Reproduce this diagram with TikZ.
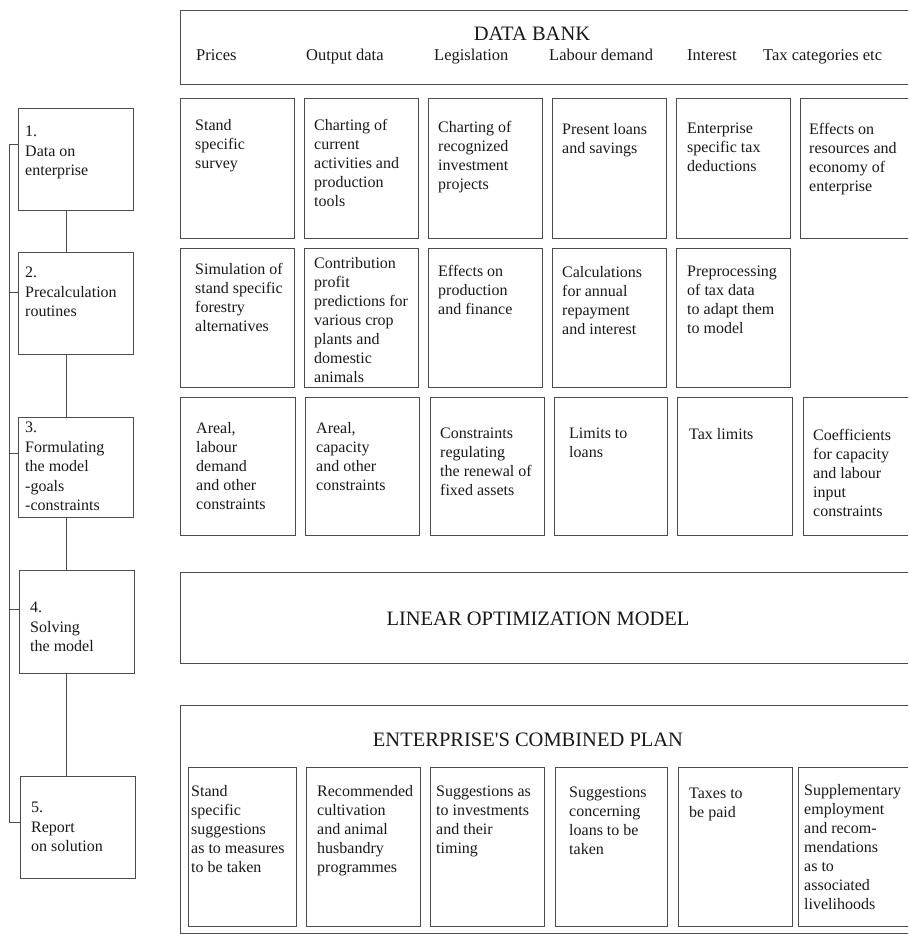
\documentclass[tikz,border=0pt]{standalone}
\usepackage{fontspec}
\setmainfont{Liberation Serif}
\newfontfamily\plainquote{Liberation Serif}[Ligatures=TeXOff]
\begin{document}
\begin{tikzpicture}[x=1pt,y=-1pt,
  box/.style={draw=black!70, line width=0.8pt, inner sep=0pt, outer sep=0pt, anchor=north west},
  txt/.style={anchor=north west, inner sep=0pt, align=left, text=black!90, font=\fontsize{16}{19}\selectfont},
  ltxt/.style={txt, font=\fontsize{16}{19.5}\selectfont},
  lab/.style={anchor=base west, inner sep=0pt, text=black!90, font=\fontsize{16.5}{19}\selectfont},
  ttl/.style={anchor=base, inner sep=0pt, text=black!90, font=\fontsize{20.5}{24}\selectfont},
  link/.style={draw=black!70, line width=0.8pt}]
\useasboundingbox (0,0) rectangle (908,934);
\clip (0,0) rectangle (908,934);

% ---- left column ----
\node[box, minimum width=115, minimum height=102] (b1) at (18,108) {};
\node[box, minimum width=115, minimum height=102] (b2) at (18,252) {};
\node[box, minimum width=115, minimum height=100] (b3) at (18,417) {};
\node[box, minimum width=115, minimum height=103] (b4) at (19,570) {};
\node[box, minimum width=115, minimum height=102] (b5) at (20,776) {};
\node[ltxt] (b1t) at (25,126) {1.\\Data on\\enterprise};
\node[ltxt] (b2t) at (25,267) {2.\\Precalculation\\routines};
\node[ltxt] (b3t) at (25,422) {3.\\Formulating\\the model\\-goals\\-constraints};
\node[ltxt] (b4t) at (30,602) {4.\\Solving\\the model};
\node[ltxt] (b5t) at (31,802) {5.\\Report\\on solution};

\coordinate (sp) at (66,0);
\draw[link] (b1.south -| sp) -- (b2.north -| sp);
\draw[link] (b2.south -| sp) -- (b3.north -| sp);
\draw[link] (b3.south -| sp) -- (b4.north -| sp);
\draw[link] (b4.south -| sp) -- (b5.north -| sp);

\coordinate (t1) at (9,144);
\coordinate (t2) at (9,292);
\coordinate (t3) at (9,453);
\coordinate (t4) at (9,609);
\coordinate (t5) at (9,822);
\draw[link] (t1) -- (t5);
\draw[link] (t1) -- (t1 -| b1.west);
\draw[link] (t2) -- (t2 -| b2.west);
\draw[link] (t3) -- (t3 -| b3.west);
\draw[link] (t4) -- (t4 -| b4.west);
\draw[link] (t5) -- (t5 -| b5.west);

% ---- data bank ----
\node[box, minimum width=740, minimum height=74] (db) at (180,10) {};
\node[ttl] (dbt) at (532,41) {DATA BANK};
\node[lab] (l1) at (196,60) {Prices};
\node[lab] (l2) at (306,60) {Output data};
\node[lab] (l3) at (434,60) {Legislation};
\node[lab] (l4) at (549,60) {Labour demand};
\node[lab] (l5) at (687,60) {Interest};
\node[lab] (l6) at (763,60) {Tax categories etc};

% ---- row 1 ----
\node[box, minimum width=114, minimum height=140] (r1a) at (180,98) {};
\node[box, minimum width=114, minimum height=140] (r1b) at (304,98) {};
\node[box, minimum width=114, minimum height=140] (r1c) at (428,98) {};
\node[box, minimum width=114, minimum height=140] (r1d) at (552,98) {};
\node[box, minimum width=114, minimum height=140] (r1e) at (676,98) {};
\node[box, minimum width=130, minimum height=140] (r1f) at (800,98) {};
\node[txt] (r1at) at (195,119) {Stand\\specific\\survey};
\node[txt] (r1bt) at (314,119) {Charting of\\current\\activities and\\production\\tools};
\node[txt] (r1ct) at (438,121) {Charting of\\recognized\\investment\\projects};
\node[txt] (r1dt) at (562,123) {Present loans\\and savings};
\node[txt] (r1et) at (687,123) {Enterprise\\specific tax\\deductions};
\node[txt] (r1ft) at (809,123) {Effects on\\resources and\\economy of\\enterprise};

% ---- row 2 ----
\node[box, minimum width=114, minimum height=139] (r2a) at (180,248) {};
\node[box, minimum width=114, minimum height=139] (r2b) at (304,248) {};
\node[box, minimum width=114, minimum height=139] (r2c) at (428,248) {};
\node[box, minimum width=114, minimum height=139] (r2d) at (552,248) {};
\node[box, minimum width=114, minimum height=139] (r2e) at (676,248) {};
\node[txt] (r2at) at (195,263) {Simulation of\\stand specific\\forestry\\alternatives};
\node[txt] (r2bt) at (314,257) {Contribution\\profit\\predictions for\\various crop\\plants and\\domestic\\animals};
\node[txt] (r2ct) at (438,265) {Effects on\\production\\and finance};
\node[txt] (r2dt) at (562,266) {Calculations\\for annual\\repayment\\and interest};
\node[txt] (r2et) at (687,266) {Preprocessing\\of tax data\\to adapt them\\to model};

% ---- row 3 ----
\node[box, minimum width=115, minimum height=138] (r3a) at (180,397) {};
\node[box, minimum width=114, minimum height=138] (r3b) at (305,397) {};
\node[box, minimum width=114, minimum height=138] (r3c) at (430,397) {};
\node[box, minimum width=113, minimum height=138] (r3d) at (554,397) {};
\node[box, minimum width=115, minimum height=138] (r3e) at (677,397) {};
\node[box, minimum width=130, minimum height=138] (r3f) at (803,397) {};
\node[txt] (r3at) at (196,422) {Areal,\\labour\\demand\\and other\\constraints};
\node[txt] (r3bt) at (316,422) {Areal,\\capacity\\and other\\constraints};
\node[txt] (r3ct) at (440,428) {Constraints\\regulating\\the renewal of\\fixed assets};
\node[txt] (r3dt) at (569,428) {Limits to\\loans};
\node[txt] (r3et) at (689,428) {Tax limits};
\node[txt] (r3ft) at (813,429) {Coefficients\\for capacity\\and labour\\input\\constraints};

% ---- linear model ----
\node[box, minimum width=740, minimum height=91] (lom) at (180,572) {};
\node[ttl] (lomt) at (538,625) {LINEAR OPTIMIZATION MODEL};

% ---- combined plan ----
\node[box, minimum width=740, minimum height=228] (ecp) at (180,705) {};
\node[ttl] (ecpt) at (528,746) {ENTERPRISE{\plainquote '}S COMBINED PLAN};
\node[box, minimum width=108, minimum height=159] (pa) at (188,767) {};
\node[box, minimum width=114, minimum height=159] (pb) at (306,767) {};
\node[box, minimum width=114, minimum height=159] (pc) at (430,767) {};
\node[box, minimum width=112, minimum height=159] (pd) at (555,767) {};
\node[box, minimum width=114, minimum height=159] (pe) at (678,767) {};
\node[box, minimum width=130, minimum height=159] (pf) at (798,767) {};
\node[txt] (pat) at (191,785) {Stand\\specific\\suggestions\\as to measures\\to be taken};
\node[txt] (pbt) at (317,785) {Recommended\\cultivation\\and animal\\husbandry\\programmes};
\node[txt] (pct) at (436,786) {Suggestions as\\to investments\\and their\\timing};
\node[txt] (pdt) at (569,787) {Suggestions\\concerning\\loans to be\\taken};
\node[txt] (pet) at (689,788) {Taxes to\\be paid};
\node[txt] (pft) at (804,784) {Supplementary\\employment\\and recom-\\mendations\\as to\\associated\\livelihoods};
\end{tikzpicture}
\end{document}
